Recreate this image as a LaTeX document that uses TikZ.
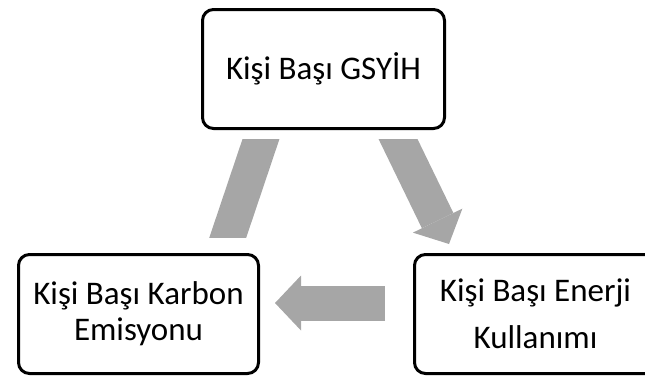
\documentclass[tikz,border=0pt]{standalone}
\usepackage{fontspec}
\setmainfont{Carlito}
\usetikzlibrary{arrows.meta,positioning}
\definecolor{arrowgray}{RGB}{166,166,166}

\begin{document}
\begin{tikzpicture}[x=1pt,y=-1pt]
\tikzset{box/.style={draw,line width=3pt,rounded corners=11pt,fill=white,
minimum width=242pt, minimum height=119pt, align=center,
font=\fontsize{33}{36}\selectfont},
bigarrow/.style={draw=arrowgray,line width=35pt,
-{Triangle[width=55pt,length=26pt,line width=0pt]}}}
\useasboundingbox (0,0) rectangle (645,376);

\node[box] (gsyih) at (323.5,69) {Kişi Başı GSYİH};
\node[box,minimum width=240pt] (karbon) at (138.5,314) {Kişi Başı Karbon\\Emisyonu};
\node[box] (enerji) at (535.5,314) {Kişi Başı Enerji\\[11pt]Kullanımı};

\coordinate (karbon-out) at (223.6,250);
\coordinate (gsyih-in) at (265.7,125);
\coordinate (gsyih-out) at (391.2,125);
\coordinate (enerji-in) at (449,244);
\coordinate (enerji-out) at (385,303);
\coordinate (karbon-in) at (275,303);

%\draw[bigarrow] (karbon-out) -- (gsyih-in);
\begin{scope}
\clip (0,139) rectangle (645,237);
\draw[draw=arrowgray,line width=35pt] (karbon-out) -- (gsyih-in);
\end{scope}
\begin{scope}
\clip (0,139) rectangle (645,260);
\draw[bigarrow] (gsyih-out) -- (enerji-in);
\end{scope}
\draw[bigarrow] (enerji-out) -- (karbon-in);
\end{tikzpicture}
\end{document}
